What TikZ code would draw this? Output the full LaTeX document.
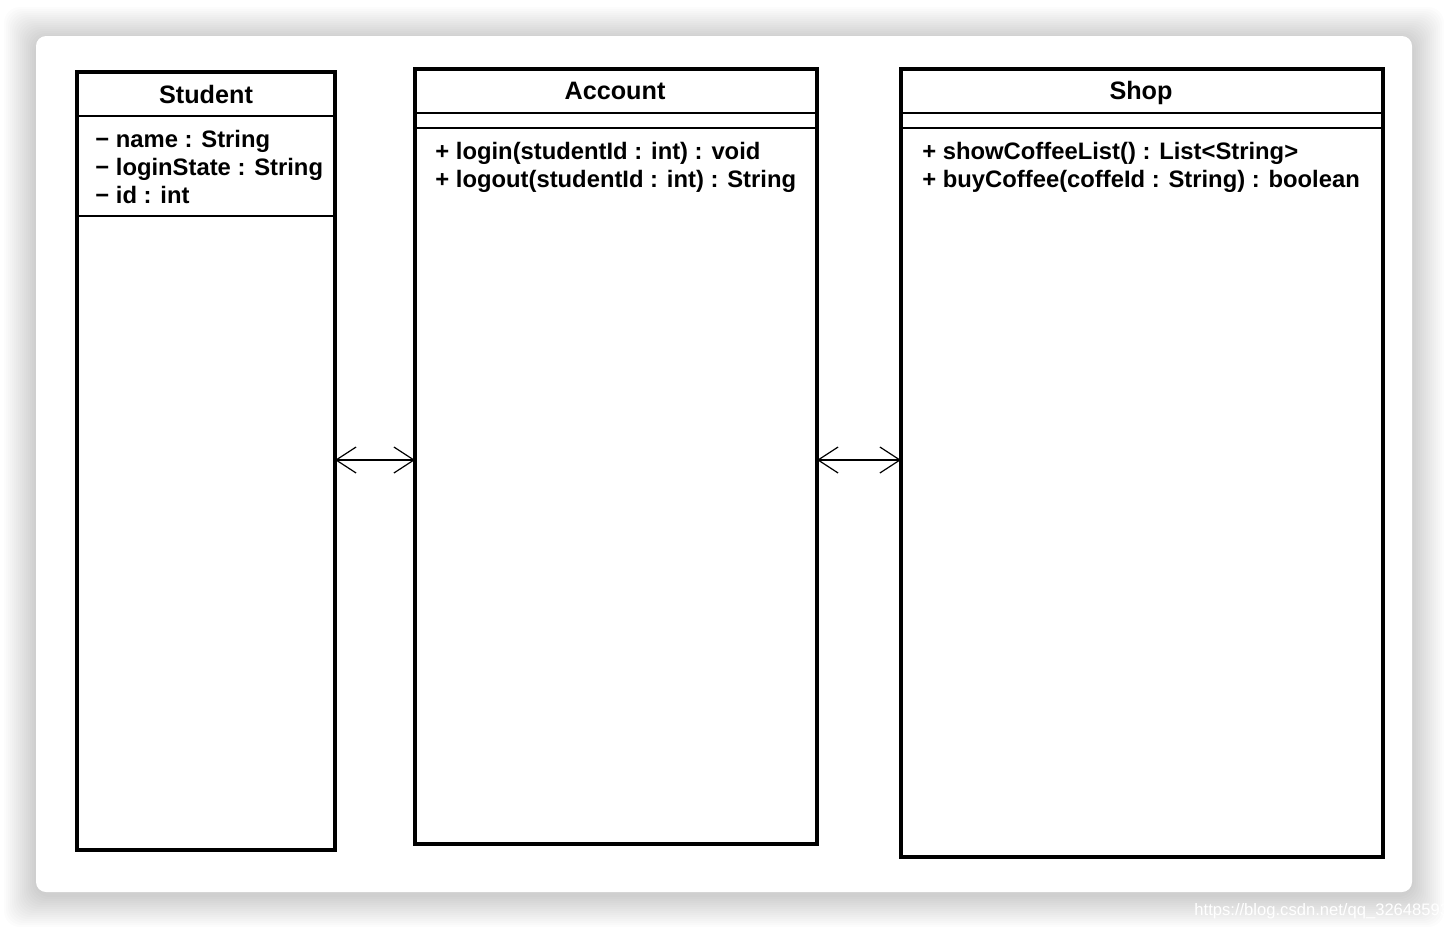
\documentclass[tikz,border=0pt]{standalone}
\usepackage{fontspec}
\setmainfont{Liberation Sans}
\usetikzlibrary{arrows.meta}
\begin{document}
\begin{tikzpicture}[x=0.5pt,y=-0.5pt,
  umlbox/.style={draw, line width=2pt, inner sep=0pt, outer sep=0pt, anchor=north west},
  sep/.style={line width=1.4pt},
  classtitle/.style={font=\fontsize{12.6}{14}\selectfont\bfseries, anchor=base, inner sep=0pt},
  member/.style={font=\fontsize{11.9}{14}\selectfont\bfseries, anchor=base west, inner sep=0pt},
  assoc/.style={line width=0.6pt, {Straight Barb[length=10pt,width=13pt]}-{Straight Barb[length=10pt,width=13pt]}},
  watermark/.style={font=\fontsize{8.3}{10}\selectfont, text=white, anchor=base west, inner sep=0pt}
]
\useasboundingbox (0,0) rectangle (1448,928);
\clip (0,0) rectangle (1448,928);
\fill[white] (0,0) rectangle (1448,928);
% shadow
\foreach \i in {1,...,16}{
  \fill[black, opacity=0.013, rounded corners=8pt] (36-2*\i,36-2*\i+3) rectangle (1412+2*\i,892+2*\i+3);
}
% card
\fill[white, rounded corners=5pt] (36,36) rectangle (1412,892);

% classes
\node[umlbox, minimum width=129pt, minimum height=389pt] (stu) at (77,72) {};
\node[umlbox, minimum width=201pt, minimum height=387.5pt] (acc) at (415,69) {};
\node[umlbox, minimum width=241pt, minimum height=394pt] (shop) at (901,69) {};

% compartments
\draw[sep] (stu.west |- 0,116) -- (stu.east |- 0,116);
\draw[sep] (stu.west |- 0,216) -- (stu.east |- 0,216);
\draw[sep] (acc.west |- 0,113) -- (acc.east |- 0,113);
\draw[sep] (acc.west |- 0,128) -- (acc.east |- 0,128);
\draw[sep] (shop.west |- 0,113) -- (shop.east |- 0,113);
\draw[sep] (shop.west |- 0,128) -- (shop.east |- 0,128);

% titles
\node[classtitle] (stut) at (206,103) {Student};
\node[classtitle] (acct) at (615,99) {Account};
\node[classtitle] (shopt) at (1141,99) {Shop};

% members
\node[member] (a1) at (95,147) {− name : String};
\node[member] (a2) at (95,175) {− loginState : String};
\node[member] (a3) at (95,203) {− id : int};
\node[member] (m1) at (435,159) {+ login(studentId : int) : void};
\node[member] (m2) at (435,187) {+ logout(studentId : int) : String};
\node[member] (m3) at (922,159) {+ showCoffeeList() : List<String>};
\node[member] (m4) at (922,187) {+ buyCoffee(coffeId : String) : boolean};

% associations
\coordinate (ya) at (0,460);
\draw[assoc] (stu.east |- ya) -- (acc.west |- ya);
\draw[assoc] (acc.east |- ya) -- (shop.west |- ya);

% watermark
\node[watermark] (wm) at (1194,915) {https://blog.csdn.net/qq\_32648593};
\end{tikzpicture}
\end{document}
